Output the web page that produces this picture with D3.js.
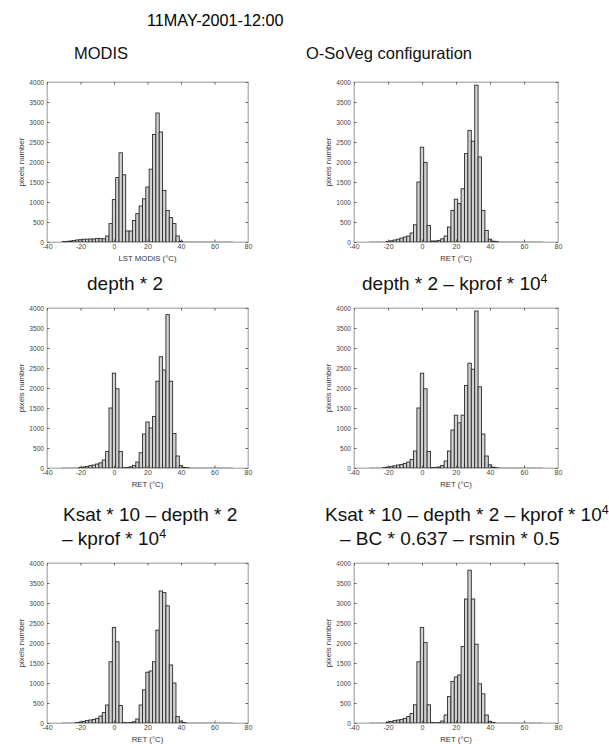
<!DOCTYPE html>
<html>
<head>
<meta charset="utf-8">
<script src="https://cdn.jsdelivr.net/npm/d3@7"></script>
<style>
body { margin: 0; background: #fff; }
text { font-family: "Liberation Sans", Arial, sans-serif; }
</style>
</head>
<body>
<div id="chart"></div>
<script>
var w = 609;
var h = 744;

// bin centres (°C), 2 °C wide bins
var binCenters = [-30, -28, -26, -24, -22, -20, -18, -16, -14, -12, -10, -8, -6, -4, -2,
  0, 2, 4, 6, 8, 10, 12, 14, 16, 18, 20, 22, 24, 26, 28, 30, 32, 34, 36, 38, 40,
  42, 44, 46, 48, 50, 52, 54, 56, 58, 60, 62, 64, 66, 68, 70];

var modis = [10, 15, 25, 35, 50, 60, 70, 70, 75, 75, 90, 85, 80, 150, 460,
  1060, 1610, 2230, 1680, 275, 275, 540, 710, 900, 1080, 1375, 1820, 2690, 3225, 2750, 1290, 790, 610, 460, 150, 20,
  0, 0, 0, 0, 0, 0, 0, 0, 0, 0, 0, 0, 0, 0, 0];

var soveg = [0, 0, 0, 0, 0, 15, 30, 50, 70, 100, 125, 150, 225, 430, 1500,
  2370, 1990, 415, 25, 25, 40, 80, 150, 375, 790, 1070, 960, 1330, 2210, 2790, 2520, 3920, 2125, 790, 290, 70,
  20, 10, 0, 0, 0, 0, 0, 0, 0, 0, 0, 0, 0, 0, 0];

var depth2 = [0, 0, 0, 0, 0, 15, 25, 40, 60, 75, 100, 130, 200, 415, 1500,
  2370, 1980, 415, 10, 10, 30, 65, 150, 380, 850, 1150, 1000, 1290, 2170, 2780, 2450, 3835, 2170, 860, 300, 60,
  15, 5, 0, 0, 0, 0, 0, 0, 0, 0, 0, 0, 0, 0, 0];

var depth2kprof = [0, 0, 0, 0, 10, 25, 40, 55, 75, 90, 115, 150, 215, 425, 1500,
  2370, 1980, 415, 10, 10, 25, 65, 175, 425, 950, 1320, 1130, 1320, 2065, 2620, 2470, 3925, 2030, 850, 300, 80,
  20, 5, 0, 0, 0, 0, 0, 0, 0, 0, 0, 0, 0, 0, 0];

var ksatDepthKprof = [0, 0, 0, 0, 10, 25, 40, 60, 75, 90, 115, 175, 260, 450, 1530,
  2390, 2030, 440, 10, 5, 10, 30, 100, 450, 830, 1270, 1300, 1530, 2320, 3300, 3260, 2930, 1450, 1000, 160, 50,
  10, 0, 0, 0, 0, 0, 0, 0, 0, 0, 0, 0, 0, 0, 0];

var ksatAll = [0, 0, 0, 0, 0, 25, 40, 60, 75, 90, 115, 160, 240, 455, 1530,
  2390, 2010, 455, 10, 5, 10, 50, 200, 660, 1040, 1150, 1200, 1910, 3100, 3820, 3100, 1970, 980, 730, 200, 40,
  10, 0, 0, 0, 0, 0, 0, 0, 0, 0, 0, 0, 0, 0, 0];

var xTicks = [-40, -20, 0, 20, 40, 60, 80];
var yTicks = [0, 500, 1000, 1500, 2000, 2500, 3000, 3500, 4000];

var svg = d3.select("#chart")
  .append("svg")
  .attr("width", w)
  .attr("height", h);

svg.append("text")
  .attr("x", 147).attr("y", 26)
  .attr("font-size", "16.2px")
  .text("11MAY-2001-12:00");

var panels = [
  { counts: modis, x: 47, y: 82, w: 201, label: "LST MODIS (°C)", fs: 16.5,
    title: [{ x: 74, y: 59, parts: ["MODIS"] }] },
  { counts: soveg, x: 354, y: 82, w: 204, label: "RET (°C)", fs: 16.5,
    title: [{ x: 306, y: 59, parts: ["O-SoVeg configuration"] }] },
  { counts: depth2, x: 47, y: 308, w: 201, label: "RET (°C)", fs: 19,
    title: [{ x: 87, y: 290, parts: ["depth * 2"] }] },
  { counts: depth2kprof, x: 354, y: 308, w: 204, label: "RET (°C)", fs: 19,
    title: [{ x: 362, y: 290, parts: ["depth * 2 \u2013 kprof * 10", "4"] }] },
  { counts: ksatDepthKprof, x: 47, y: 563, w: 201, label: "RET (°C)", fs: 19,
    title: [{ x: 63, y: 521, parts: ["Ksat * 10 \u2013 depth * 2"] },
            { x: 62, y: 545, parts: ["\u2013 kprof * 10", "4"] }] },
  { counts: ksatAll, x: 354, y: 563, w: 204, label: "RET (°C)", fs: 19,
    title: [{ x: 325, y: 521, parts: ["Ksat * 10 \u2013 depth * 2 \u2013 kprof * 10", "4"] },
            { x: 340, y: 545, parts: ["\u2013 BC * 0.637 \u2013 rsmin * 0.5"] }] }
];

panels.forEach(drawPanel);

function drawPanel(p) {
  var ph = 160;
  var g = svg.append("g").attr("transform", "translate(" + p.x + "," + p.y + ")");

  var x = d3.scaleLinear().domain([-40, 80]).range([0, p.w]);
  var y = d3.scaleLinear().domain([0, 4000]).range([ph, 0]);

  p.title.forEach(function (line) {
    var t = svg.append("text")
      .attr("x", line.x).attr("y", line.y)
      .attr("font-size", p.fs + "px")
      .attr("fill", "#111");
    t.append("tspan").text(line.parts[0]);
    if (line.parts[1]) {
      t.append("tspan").attr("dy", -p.fs * 0.38).attr("font-size", (p.fs * 0.66) + "px").text(line.parts[1]);
    }
  });

  // box
  g.append("rect")
    .attr("x", 0).attr("y", 0)
    .attr("width", p.w).attr("height", ph)
    .attr("fill", "none")
    .attr("stroke", "#b8b8b8")
    .attr("stroke-width", 1);

  // flat line of the empty bins
  g.append("line")
    .attr("x1", x(binCenters[0] - 1))
    .attr("x2", x(binCenters[binCenters.length - 1] + 1))
    .attr("y1", y(0)).attr("y2", y(0))
    .attr("stroke", "#888")
    .attr("stroke-width", 1.2);

  var bins = binCenters.map(function (c, i) { return { c: c, v: p.counts[i] }; })
    .filter(function (d) { return d.v > 0; });

  g.selectAll("rect.bar")
    .data(bins)
    .enter()
    .append("rect")
    .attr("class", "bar")
    .attr("x", function (d) { return x(d.c - 1); })
    .attr("width", function (d) { return x(d.c + 1) - x(d.c - 1); })
    .attr("y", function (d) { return y(d.v); })
    .attr("height", function (d) { return y(0) - y(d.v); })
    .attr("fill", "#d2d2d2")
    .attr("stroke", "#2a2a2a")
    .attr("stroke-width", 0.9);

  var plain = function (d) { return String(d); };

  var xAxis = g.append("g")
    .attr("transform", "translate(0," + ph + ")")
    .call(d3.axisBottom(x).tickValues(xTicks).tickFormat(plain).tickSizeInner(-2.5).tickSizeOuter(0).tickPadding(2));
  var yAxis = g.append("g")
    .call(d3.axisLeft(y).tickValues(yTicks).tickFormat(plain).tickSizeInner(-2.5).tickSizeOuter(0).tickPadding(3));
  var topAxis = g.append("g")
    .call(d3.axisTop(x).tickValues(xTicks).tickSizeInner(-2.5).tickSizeOuter(0).tickFormat(""));
  var rightAxis = g.append("g")
    .attr("transform", "translate(" + p.w + ",0)")
    .call(d3.axisRight(y).tickValues(yTicks).tickSizeInner(-2.5).tickSizeOuter(0).tickFormat(""));

  [xAxis, yAxis, topAxis, rightAxis].forEach(function (a) {
    a.select(".domain").attr("stroke", "#b8b8b8");
    a.selectAll(".tick line").attr("stroke", "#666");
    a.selectAll(".tick text").attr("fill", "#444").attr("font-family", "Liberation Sans, Arial, sans-serif");
  });
  xAxis.selectAll(".tick text").attr("font-size", "7px");
  yAxis.selectAll(".tick text").attr("font-size", "6.6px");

  g.append("text")
    .attr("x", p.w / 2).attr("y", ph + 19)
    .attr("text-anchor", "middle")
    .attr("font-size", "7.8px")
    .attr("fill", "#333")
    .text(p.label);

  g.append("text")
    .attr("transform", "translate(-23," + (ph / 2) + ") rotate(-90)")
    .attr("text-anchor", "middle")
    .attr("font-size", "7.8px")
    .attr("fill", "#333")
    .text("pixels number");
}
</script>
</body>
</html>
